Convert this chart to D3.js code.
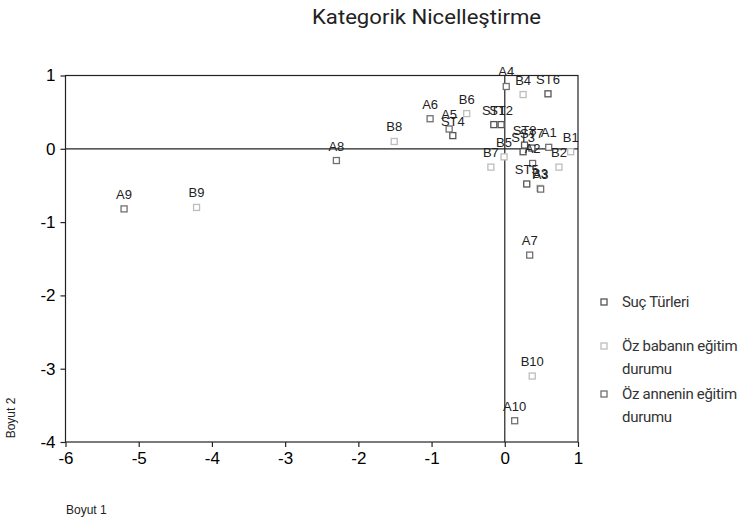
<!DOCTYPE html>
<html>
<head>
<meta charset="utf-8">
<script src="https://cdn.jsdelivr.net/npm/d3@7"></script>
<style>
body { margin: 0; background: #fff; }
</style>
</head>
<body>
<script>
var w = 746;
var h = 524;

// Suç Türleri
var stLabels = ["ST1", "ST2", "ST3", "ST4", "ST5", "ST6", "ST7", "ST8"];
var stX = [-0.15, -0.05, 0.25, -0.71, 0.30, 0.59, 0.37, 0.27];
var stY = [0.33, 0.33, -0.04, 0.18, -0.48, 0.75, 0.01, 0.05];

// Öz babanın eğitim durumu
var bLabels = ["B1", "B2", "B3", "B4", "B5", "B6", "B7", "B8", "B9", "B10"];
var bX = [0.90, 0.74, 0.48, 0.25, -0.01, -0.52, -0.19, -1.51, -4.21, 0.375];
var bY = [-0.04, -0.25, -0.54, 0.74, -0.11, 0.48, -0.25, 0.10, -0.80, -3.10];

// Öz annenin eğitim durumu
var aLabels = ["A1", "A2", "A3", "A4", "A5", "A6", "A7", "A8", "A9", "A10"];
var aX = [0.60, 0.38, 0.49, 0.02, -0.76, -1.02, 0.34, -2.30, -5.20, 0.135];
var aY = [0.02, -0.20, -0.55, 0.85, 0.27, 0.41, -1.45, -0.16, -0.82, -3.71];

var xTicks = [-6, -5, -4, -3, -2, -1, 0, 1];
var yTicks = [1, 0, -1, -2, -3, -4];

var seriesNames = ["Suç Türleri", "Öz babanın eğitim durumu", "Öz annenin eğitim durumu"];
var seriesColors = ["#555555", "#bdbdbd", "#707070"];

var narrow = "Roboto, 'Liberation Sans', sans-serif";

var svg = d3.select("body").append("svg").attr("width", w).attr("height", h);

var xS = d3.scaleLinear().domain([-6, 1]).range([65.5, 578]);
var yS = d3.scaleLinear().domain([-4, 1]).range([442, 75.5]);

// title
svg.append("text").text("Kategorik Nicelleştirme")
    .attr("x", 312).attr("y", 24)
    .attr("textLength", 229).attr("lengthAdjust", "spacingAndGlyphs")
    .attr("font-family", narrow)
    .attr("font-size", "20px")
    .attr("fill", "#222");

// plot frame
svg.append("rect")
    .attr("x", xS(-6)).attr("y", yS(1))
    .attr("width", xS(1) - xS(-6)).attr("height", yS(-4) - yS(1))
    .attr("fill", "none").attr("stroke", "#222").attr("stroke-width", 1.2);

// zero lines
svg.append("line")
    .attr("x1", xS(-6)).attr("x2", xS(1)).attr("y1", yS(0)).attr("y2", yS(0))
    .attr("stroke", "#222").attr("stroke-width", 1.2);
svg.append("line")
    .attr("x1", xS(0)).attr("x2", xS(0)).attr("y1", yS(1)).attr("y2", yS(-4))
    .attr("stroke", "#222").attr("stroke-width", 1.2);

// axes
var fmt = function(d) { return String(d); };
var xA = d3.axisBottom(xS).tickValues(xTicks).tickSize(5).tickFormat(fmt);
var yA = d3.axisLeft(yS).tickValues(yTicks).tickSize(5).tickFormat(fmt);

var gx = svg.append("g").attr("transform", "translate(0," + yS(-4) + ")").call(xA);
var gy = svg.append("g").attr("transform", "translate(" + xS(-6) + ",0)").call(yA);
[gx, gy].forEach(function(g) {
    g.select(".domain").remove();
    g.selectAll(".tick line").attr("stroke", "#222").attr("stroke-width", 1.2);
    g.selectAll(".tick text")
        .attr("font-family", "Liberation Sans")
        .attr("font-size", "17px")
        .attr("fill", "#000");
});
gx.selectAll(".tick text").attr("y", 10);
gy.selectAll(".tick text").attr("x", -10);

// axis titles
svg.append("text").text("Boyut 1")
    .attr("x", 66).attr("y", 514)
    .attr("font-family", "Liberation Sans")
    .attr("font-size", "12px")
    .attr("fill", "#222");
svg.append("text").text("Boyut 2")
    .attr("transform", "translate(15,418) rotate(-90)")
    .attr("text-anchor", "middle")
    .attr("font-family", "Liberation Sans")
    .attr("font-size", "12px")
    .attr("fill", "#222");

// points
var points = [];
stLabels.forEach(function(l, i) { points.push({label: l, x: stX[i], y: stY[i], s: 0}); });
bLabels.forEach(function(l, i) { points.push({label: l, x: bX[i], y: bY[i], s: 1}); });
aLabels.forEach(function(l, i) { points.push({label: l, x: aX[i], y: aY[i], s: 2}); });

svg.selectAll("rect.pt").data(points).enter().append("rect")
    .attr("class", "pt")
    .attr("x", function(d) { return xS(d.x) - 3; })
    .attr("y", function(d) { return yS(d.y) - 3; })
    .attr("width", 6).attr("height", 6)
    .attr("fill", "#fff")
    .attr("stroke", function(d) { return seriesColors[d.s]; })
    .attr("stroke-width", 1.3);

svg.selectAll("text.lbl").data(points).enter().append("text")
    .attr("class", "lbl")
    .text(function(d) { return d.label; })
    .attr("x", function(d) { return xS(d.x); })
    .attr("y", function(d) { return yS(d.y) - 10; })
    .attr("text-anchor", "middle")
    .attr("font-family", "Liberation Sans")
    .attr("font-size", "13px")
    .attr("fill", "#222");

// legend
var legY = [302, 346, 394];
var leg = svg.selectAll("g.leg").data(seriesNames).enter().append("g")
    .attr("class", "leg")
    .attr("transform", function(d, i) { return "translate(604," + legY[i] + ")"; });
leg.append("rect")
    .attr("x", -3).attr("y", -3).attr("width", 6).attr("height", 6)
    .attr("fill", "#fff")
    .attr("stroke", function(d, i) { return seriesColors[i]; })
    .attr("stroke-width", 1.3);
leg.each(function(d) {
    var words = d.split(" ");
    var lines = words.length > 2 ? [words.slice(0, 3).join(" "), words.slice(3).join(" ")] : [d];
    var g = d3.select(this);
    lines.forEach(function(line, j) {
        g.append("text")
            .attr("x", 18).attr("y", 5 + j * 23)
            .attr("font-family", narrow)
            .attr("font-size", "15px")
            .attr("letter-spacing", "-0.3px")
            .attr("fill", "#333")
            .text(line);
    });
});
</script>
</body>
</html>
